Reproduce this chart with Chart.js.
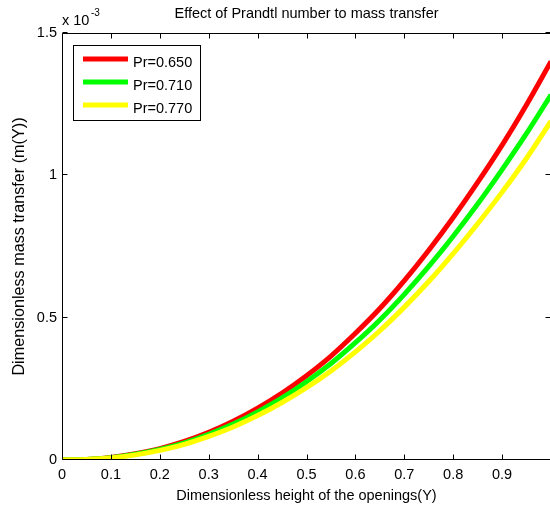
<!DOCTYPE html>
<html>
<head>
<meta charset="utf-8">
<script src="https://cdn.jsdelivr.net/npm/chart.js@4/dist/chart.umd.min.js"></script>
<style>
  html, body { margin: 0; padding: 0; background: #fff; overflow: hidden; }
  #wrap { width: 550px; height: 508px; overflow: hidden; position: relative; background: #fff; }
  canvas { display: block; }
</style>
</head>
<body>
<div id="wrap"><canvas id="c" width="557" height="508"></canvas></div>
<script>
// Dimensionless height of the openings (Y)
const heightY = [0, 0.05, 0.1, 0.15, 0.2, 0.25, 0.3, 0.35, 0.4, 0.45, 0.5,
                 0.55, 0.6, 0.65, 0.7, 0.75, 0.8, 0.85, 0.9, 0.95, 1.0];

// Dimensionless mass transfer m(Y), in units of 1e-3
const massPr065 = [0, 0.002, 0.009, 0.022, 0.040, 0.065, 0.097, 0.136, 0.182, 0.235, 0.296,
                   0.365, 0.445, 0.532, 0.630, 0.737, 0.852, 0.975, 1.106, 1.248, 1.400];
const massPr071 = [0, 0.002, 0.008, 0.020, 0.037, 0.060, 0.090, 0.126, 0.169, 0.218, 0.275,
                   0.339, 0.412, 0.492, 0.582, 0.680, 0.786, 0.899, 1.020, 1.147, 1.283];
const massPr077 = [0, 0.002, 0.007, 0.018, 0.034, 0.055, 0.083, 0.116, 0.156, 0.202, 0.254,
                   0.313, 0.380, 0.454, 0.537, 0.627, 0.725, 0.830, 0.941, 1.060, 1.190];

const seriesLabels = ['Pr=0.650', 'Pr=0.710', 'Pr=0.770'];
const seriesColors = ['#ff0000', '#00ff00', '#ffff00'];

const xTickLabels = ['0', '0.1', '0.2', '0.3', '0.4', '0.5', '0.6', '0.7', '0.8', '0.9', ''];
const yTickLabels = ['0', '0.5', '1', '1.5'];
const yExponentBase = 'x 10';
const yExponentPower = '-3';

const FONT_FAMILY = '"Liberation Sans", Arial, sans-serif';
const FONT_SIZE = 14.5;

Chart.defaults.font.family = FONT_FAMILY;
Chart.defaults.font.size = FONT_SIZE;
Chart.defaults.color = '#000';

function toPoints(values) {
  return heightY.map((yv, i) => ({ x: yv, y: values[i] }));
}

// Box around the plot area with inward tick marks on all four sides,
// plus the exponent note above the y axis and an in-plot legend.
const matlabAxes = {
  id: 'matlabAxes',
  afterDatasetsDraw(chart) {
    const { ctx, chartArea: { left, top, right, bottom }, scales: { x, y } } = chart;
    ctx.save();
    ctx.strokeStyle = '#000';
    ctx.lineWidth = 1;
    const L = Math.round(left) + 0.5, R = Math.round(right) - 0.5;
    const T = Math.round(top) + 0.5, B = Math.round(bottom) - 0.5;
    ctx.beginPath();
    ctx.moveTo(L, T); ctx.lineTo(R, T); ctx.lineTo(R, B); ctx.lineTo(L, B); ctx.closePath();
    const tick = 5;
    x.ticks.forEach(t => {
      const px = Math.round(x.getPixelForValue(t.value)) + 0.5;
      ctx.moveTo(px, B); ctx.lineTo(px, B - tick);
      ctx.moveTo(px, T); ctx.lineTo(px, T + tick);
    });
    y.ticks.forEach(t => {
      const py = Math.round(y.getPixelForValue(t.value)) - 0.5;
      ctx.moveTo(L, py); ctx.lineTo(L + tick, py);
      ctx.moveTo(R, py); ctx.lineTo(R - tick, py);
    });
    ctx.stroke();

    // exponent note
    ctx.fillStyle = '#000';
    ctx.textBaseline = 'alphabetic';
    ctx.textAlign = 'left';
    ctx.font = FONT_SIZE + 'px ' + FONT_FAMILY;
    const baseX = Math.round(left);
    ctx.fillText(yExponentBase, baseX, 25);
    const w = ctx.measureText(yExponentBase).width;
    ctx.font = '10px ' + FONT_FAMILY;
    ctx.fillText(yExponentPower, baseX + w + 1.5, 15.5);

    // legend
    const bx = 73.5, by = 45.5, bw = 127, bh = 75;
    ctx.fillStyle = '#fff';
    ctx.fillRect(bx, by, bw, bh);
    ctx.strokeStyle = '#000';
    ctx.lineWidth = 1;
    ctx.strokeRect(bx, by, bw, bh);
    ctx.font = FONT_SIZE + 'px ' + FONT_FAMILY;
    const rowY = [59, 82, 105];
    const ordered = chart.data.datasets.slice().sort((a, b) => a.legendIndex - b.legendIndex);
    ordered.forEach((ds, i) => {
      ctx.strokeStyle = ds.borderColor;
      ctx.lineWidth = 5;
      ctx.beginPath();
      ctx.moveTo(83, rowY[i]);
      ctx.lineTo(128, rowY[i]);
      ctx.stroke();
      ctx.fillStyle = '#000';
      ctx.fillText(ds.label, 133, rowY[i] + 7.5);
    });
    ctx.restore();
  }
};

new Chart(document.getElementById('c'), {
  type: 'line',
  data: {
    datasets: [
      { label: seriesLabels[0], data: toPoints(massPr065), borderColor: seriesColors[0], order: 3, legendIndex: 0 },
      { label: seriesLabels[1], data: toPoints(massPr071), borderColor: seriesColors[1], order: 2, legendIndex: 1 },
      { label: seriesLabels[2], data: toPoints(massPr077), borderColor: seriesColors[2], order: 1, legendIndex: 2 }
    ].map(d => Object.assign(d, {
      borderWidth: 5,
      pointRadius: 0,
      fill: false,
      cubicInterpolationMode: 'monotone',
      borderCapStyle: 'butt'
    }))
  },
  options: {
    responsive: false,
    animation: false,
    events: [],
    layout: { padding: { left: 0, right: 0, top: 0, bottom: 0 } },
    plugins: {
      legend: { display: false },
      title: { display: false },
      tooltip: { enabled: false }
    },
    scales: {
      x: {
        type: 'linear',
        position: 'bottom',
        min: 0, max: 1,
        grid: { display: false, drawTicks: false },
        border: { display: false },
        ticks: {
          stepSize: 0.1,
          padding: 6,
          autoSkip: false,
          maxRotation: 0,
          color: '#000',
          callback: (v, i) => (xTickLabels[i] !== undefined ? xTickLabels[i] : '')
        },
        title: {
          display: true,
          text: 'Dimensionless height of the openings(Y)',
          color: '#000',
          padding: { top: 0, bottom: 3 }
        },
        afterFit: s => { s.height = 48; }
      },
      xTop: {
        type: 'linear',
        position: 'top',
        display: true,
        min: 0, max: 1,
        grid: { display: false, drawTicks: false },
        border: { display: false },
        ticks: { display: false },
        title: {
          display: true,
          text: 'Effect of Prandtl number to mass transfer',
          color: '#000',
          padding: { top: 5, bottom: 0 }
        },
        afterFit: s => { s.height = 33; }
      },
      y: {
        type: 'linear',
        position: 'left',
        min: 0, max: 1.5,
        grid: { display: false, drawTicks: false },
        border: { display: false },
        ticks: {
          stepSize: 0.5,
          padding: 5,
          color: '#000',
          callback: (v, i) => (yTickLabels[i] !== undefined ? yTickLabels[i] : '')
        },
        title: {
          display: true,
          text: 'Dimensionless mass transfer (m(Y))',
          color: '#000',
          font: { size: 16.2 },
          padding: { top: 10, bottom: 0 }
        },
        afterFit: s => { s.width = 62; }
      }
    }
  },
  plugins: [matlabAxes]
});
</script>
</body>
</html>
